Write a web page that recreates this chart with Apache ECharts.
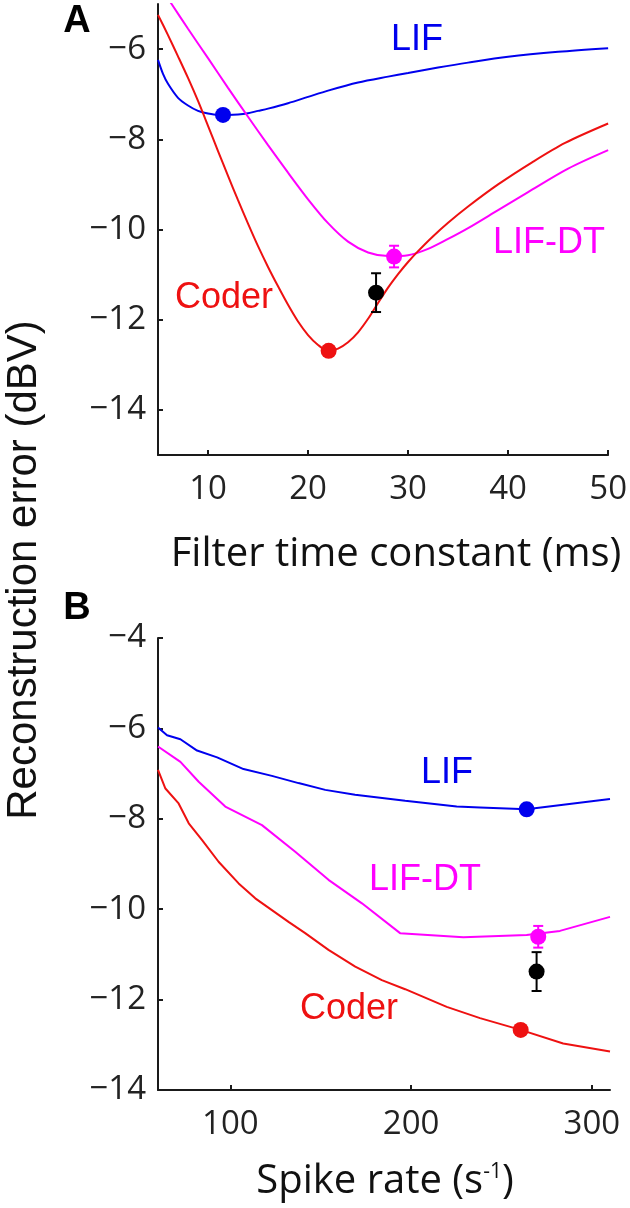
<!DOCTYPE html>
<html><head><meta charset="utf-8">
<script src="https://cdn.jsdelivr.net/npm/echarts@6/dist/echarts.min.js"></script>
<style>html,body{margin:0;padding:0;background:#fff}#c{width:630px;height:1208px}</style>
</head><body><div id="c"></div>
<script>
// ---------- Panel A: error vs filter time constant (ms) ----------
const tauA_LIF = [5, 5.5, 6, 7, 8, 9, 10, 11, 12, 13, 14, 15, 16, 18, 20, 22, 25, 28, 30, 33, 36, 40, 45, 50];
const errA_LIF = [-6.24, -6.55, -6.77, -7.08, -7.25, -7.37, -7.43, -7.46, -7.46, -7.45, -7.42, -7.37, -7.32, -7.20, -7.06, -6.92, -6.74, -6.61, -6.53, -6.41, -6.30, -6.17, -6.06, -5.98];
const tauA_DT = [5, 6.36, 8, 10, 12, 14, 16, 18, 20, 22, 24, 26, 28, 30, 32, 34, 36, 39, 42, 46, 50];
const errA_DT = [-4.54, -5.0, -5.55, -6.20, -6.86, -7.50, -8.13, -8.74, -9.33, -9.86, -10.27, -10.51, -10.59, -10.57, -10.43, -10.21, -9.97, -9.57, -9.17, -8.65, -8.24];
const tauA_Coder = [5, 6, 7, 8, 9, 10, 11, 12, 13, 14, 15, 16, 17, 18, 19, 20, 21, 22, 23, 24, 25, 26, 27, 28, 29, 30, 31, 32.4, 34, 36, 39, 42.4, 45.7, 50];
const errA_Coder = [-5.24, -5.69, -6.16, -6.64, -7.15, -7.70, -8.26, -8.81, -9.35, -9.87, -10.37, -10.83, -11.26, -11.67, -12.04, -12.34, -12.56, -12.69, -12.64, -12.50, -12.28, -11.98, -11.63, -11.29, -10.99, -10.72, -10.48, -10.17, -9.85, -9.49, -9.00, -8.51, -8.08, -7.65];
// optimum markers in A: [x, y] and error bars [x, y, sd]
const optA_LIF = [11.5, -7.46];
const optA_Coder = [22.06, -12.69];
const optA_DT = [28.6, -10.60, 0.24];
const optA_Data = [26.8, -11.40, 0.43];
const ticksA_x = [10, 20, 30, 40, 50];
const ticksA_y = [-14, -12, -10, -8, -6];

// ---------- Panel B: error vs spike rate (1/s) ----------
const rateB_LIF = [60, 65, 72.4, 81.6, 92.7, 107.3, 123, 137.7, 152.5, 169, 196.7, 225.2, 238.1, 263.9, 310];
const errB_LIF = [-5.98, -6.15, -6.24, -6.49, -6.64, -6.90, -7.05, -7.21, -7.36, -7.47, -7.60, -7.73, -7.75, -7.79, -7.56];
const rateB_DT = [60, 72.4, 82.5, 97.2, 117.5, 135.9, 154.3, 172.8, 193.9, 228.9, 263.9, 282.3, 310];
const errB_DT = [-6.40, -6.74, -7.18, -7.73, -8.14, -8.73, -9.35, -9.87, -10.53, -10.62, -10.57, -10.48, -10.17];
const rateB_Coder = [60, 64.1, 71.4, 77, 84.4, 93.5, 104.6, 113.8, 123, 132.2, 141.4, 154.3, 169.1, 183.8, 196.7, 219.7, 238.1, 260.6, 284.1, 310];
const errB_Coder = [-6.92, -7.33, -7.66, -8.10, -8.47, -8.95, -9.43, -9.76, -10.02, -10.28, -10.53, -10.90, -11.27, -11.57, -11.77, -12.16, -12.41, -12.67, -12.97, -13.15];
const optB_LIF = [263.9, -7.79];
const optB_Coder = [260.6, -12.67];
const optB_DT = [270.3, -10.61, 0.24];
const optB_Data = [269.4, -11.38, 0.43];
const ticksB_x = [100, 200, 300];

const BLUE = '#0000ee', RED = '#ee1111', MAG = '#ff00ff', BLK = '#000000', AX = '#1a1a1a';
const TICK_FONT = 'Open Sans';

const zip = (xs, ys) => xs.map((x, i) => [x, ys[i]]);
const minus = v => (v < 0 ? '\u2212' + Math.abs(v) : String(v));

function xAxisDef(idx, min, max, ticks) {
  return {
    type: 'value', gridIndex: idx, min, max,
    axisLine: { show: true, onZero: false, lineStyle: { color: AX, width: 2 } },
    axisTick: { show: true, inside: true, length: 5, lineStyle: { color: AX, width: 2 }, customValues: ticks },
    axisLabel: { customValues: ticks, color: '#222', fontFamily: TICK_FONT, fontSize: 33, margin: 18, formatter: minus },
    splitLine: { show: false }
  };
}
function yAxisDef(idx, min, max, ticks) {
  return {
    type: 'value', gridIndex: idx, min, max,
    axisLine: { show: true, onZero: false, lineStyle: { color: AX, width: 2 } },
    axisTick: { show: true, inside: true, length: 5, lineStyle: { color: AX, width: 2 }, customValues: ticks },
    axisLabel: { customValues: ticks, color: '#222', fontFamily: TICK_FONT, fontSize: 33, margin: 12, formatter: minus },
    splitLine: { show: false }
  };
}
function lineSeries(g, data, color, smooth) {
  return { type: 'line', xAxisIndex: g, yAxisIndex: g, data, showSymbol: false, smooth: smooth,
    lineStyle: { color, width: 2 }, itemStyle: { color }, clip: true, z: 2, silent: true };
}
function dotSeries(g, pt, color) {
  return { type: 'scatter', xAxisIndex: g, yAxisIndex: g, data: [[pt[0], pt[1]]], symbol: 'circle', symbolSize: 16,
    itemStyle: { color, opacity: 1 }, z: 5, silent: true };
}
function errSeries(g, pt, color) {
  return {
    type: 'custom', xAxisIndex: g, yAxisIndex: g, data: [pt], z: 4, silent: true,
    renderItem(params, api) {
      const x = api.value(0), y = api.value(1), e = api.value(2);
      const hi = api.coord([x, y + e]), lo = api.coord([x, y - e]);
      const w = 5, st = { stroke: color, lineWidth: 2 };
      return { type: 'group', children: [
        { type: 'line', shape: { x1: hi[0], y1: hi[1], x2: lo[0], y2: lo[1] }, style: st },
        { type: 'line', shape: { x1: hi[0] - w, y1: hi[1], x2: hi[0] + w, y2: hi[1] }, style: st },
        { type: 'line', shape: { x1: lo[0] - w, y1: lo[1], x2: lo[0] + w, y2: lo[1] }, style: st }
      ] };
    }
  };
}
function label(text, x, y, color, size, font, weight) {
  return { type: 'text', x, y, z: 10, style: { text, fill: color, fontSize: size, fontFamily: font || 'Liberation Sans',
    fontWeight: weight || 'normal', align: 'center', verticalAlign: 'middle' } };
}

const chart = echarts.init(document.getElementById('c'), null, { renderer: 'canvas' });
chart.setOption({
  animation: false,
  backgroundColor: '#ffffff',
  grid: [
    { left: 158, top: 4, width: 452, height: 451 },
    { left: 158, top: 638, width: 452, height: 452 }
  ],
  xAxis: [ xAxisDef(0, 5, 50, ticksA_x), xAxisDef(1, 60, 310, ticksB_x) ],
  yAxis: [ yAxisDef(0, -15, -5, ticksA_y), yAxisDef(1, -14, -4, undefined) ],
  series: [
    lineSeries(0, zip(tauA_LIF, errA_LIF), BLUE, 0.3),
    lineSeries(0, zip(tauA_DT, errA_DT), MAG, 0.3),
    lineSeries(0, zip(tauA_Coder, errA_Coder), RED, 0.3),
    dotSeries(0, optA_LIF, BLUE),
    dotSeries(0, optA_Coder, RED),
    errSeries(0, optA_DT, MAG), dotSeries(0, optA_DT, MAG),
    errSeries(0, optA_Data, BLK), dotSeries(0, optA_Data, BLK),

    lineSeries(1, zip(rateB_LIF, errB_LIF), BLUE, false),
    lineSeries(1, zip(rateB_DT, errB_DT), MAG, false),
    lineSeries(1, zip(rateB_Coder, errB_Coder), RED, false),
    dotSeries(1, optB_LIF, BLUE),
    dotSeries(1, optB_Coder, RED),
    errSeries(1, optB_DT, MAG), dotSeries(1, optB_DT, MAG),
    errSeries(1, optB_Data, BLK), dotSeries(1, optB_Data, BLK)
  ],
  graphic: [
    label('A', 77, 22, '#000', 38, 'Liberation Sans', 'bold'),
    label('B', 77, 609, '#000', 38, 'Liberation Sans', 'bold'),
    label('LIF', 417, 40, BLUE, 36),
    label('LIF-DT', 549, 243, MAG, 36),
    label('Coder', 224, 298, RED, 36),
    label('LIF', 447, 773, BLUE, 36),
    label('LIF-DT', 425, 880, MAG, 36),
    label('Coder', 349, 1009, RED, 36),
    label('Filter time constant (ms)', 396, 555, '#111', 40, TICK_FONT),
    { type: 'text', x: 385, y: 1182, z: 10, style: {
        text: 'Spike rate (s{sup|-1})', fill: '#111', fontSize: 40, fontFamily: TICK_FONT,
        align: 'center', verticalAlign: 'middle',
        rich: { sup: { fontSize: 21, fontFamily: TICK_FONT, fill: '#111', verticalAlign: 'top' } } } },
    { type: 'text', x: 24, y: 570, rotation: Math.PI / 2, z: 10, style: {
        text: 'Reconstruction error (dBV)', fill: '#111', fontSize: 42, fontFamily: 'Liberation Sans',
        align: 'center', verticalAlign: 'middle' } }
  ]
});
</script>
</body></html>
